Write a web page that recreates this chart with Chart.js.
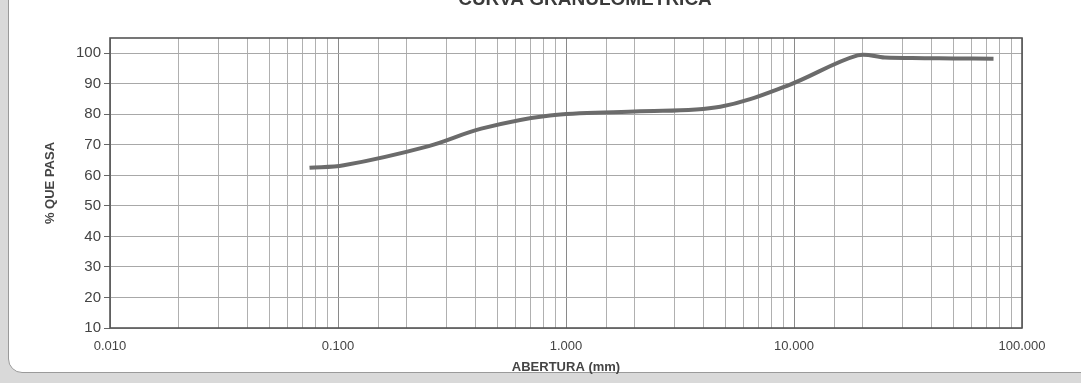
<!DOCTYPE html>
<html>
<head>
<meta charset="utf-8">
<script src="https://cdn.jsdelivr.net/npm/chart.js@4/dist/chart.umd.min.js"></script>
<style>
  html, body { margin: 0; padding: 0; }
  body { width: 1081px; height: 383px; background: #d9d9d9; position: relative; overflow: hidden; }
  #paper { position: absolute; left: 8px; top: -20px; width: 1110px; height: 391px; background: #fff;
           border: 1px solid #9a9a9a; border-radius: 14px; }
  #wrap { position: absolute; left: 0; top: 0; width: 1081px; height: 383px; }
</style>
</head>
<body>
<div id="paper"></div>
<div id="wrap"><canvas id="curva" width="1081" height="383"></canvas></div>
<script>
// Abertura de tamiz (mm) y % que pasa
const aberturas = [0.075, 0.106, 0.25, 0.425, 0.85, 2.0, 4.75, 9.5, 19.0, 25.0, 37.5, 50.0, 75.0];
const pasa = [62.5, 63.3, 69.6, 75.3, 79.6, 80.9, 82.5, 89.6, 99.3, 98.6, 98.4, 98.3, 98.2];
const yTicks = [10, 20, 30, 40, 50, 60, 70, 80, 90, 100];
const xLabels = [0.01, 0.1, 1, 10, 100];

const puntos = aberturas.map((a, i) => ({ x: a, y: pasa[i] }));

// Título parcialmente cortado arriba, como en el escaneo
const tituloPlugin = {
    id: 'titulo',
    afterDraw(chart) {
        const ctx = chart.ctx;
        ctx.save();
        ctx.font = 'bold 19px "Liberation Sans", Arial, sans-serif';
        ctx.fillStyle = '#3a3a3a';
        ctx.textAlign = 'center';
        ctx.textBaseline = 'middle';
        ctx.fillText('CURVA GRANULOMETRICA', 585, 0);
        // borde del área de trazado
        const a = chart.chartArea;
        ctx.strokeStyle = '#555';
        ctx.lineWidth = 1.6;
        ctx.strokeRect(a.left, a.top, a.right - a.left, a.bottom - a.top);
        ctx.restore();
    }
};

const ctx = document.getElementById('curva').getContext('2d');
new Chart(ctx, {
    type: 'line',
    data: {
        datasets: [{
            label: '% que pasa',
            data: puntos,
            borderColor: '#6b6b6b',
            borderWidth: 4,
            pointRadius: 0,
            tension: 0.35,
            fill: false
        }]
    },
    options: {
        responsive: false,
        animation: false,
        layout: { padding: { left: 43, right: 59, top: 38, bottom: 0 } },
        plugins: {
            legend: { display: false },
            tooltip: { enabled: false }
        },
        scales: {
            x: {
                type: 'logarithmic',
                min: 0.01,
                max: 100,
                afterFit: s => { s.height = 55; },
                grid: {
                    color: c => {
                        const v = c.tick ? c.tick.value : 0;
                        const lg = Math.log10(v);
                        return Math.abs(lg - Math.round(lg)) < 1e-6 ? '#8a8a8a' : '#b0b0b0';
                    },
                    lineWidth: 1,
                    drawTicks: false
                },
                border: { display: false },
                ticks: {
                    autoSkip: false,
                    maxRotation: 0,
                    padding: 11,
                    color: '#444',
                    font: { family: '"Liberation Sans", Arial, sans-serif', size: 13 },
                    callback: v => xLabels.some(l => Math.abs(l - v) < 1e-9) ? v.toFixed(3) : ''
                },
                title: {
                    display: true,
                    text: 'ABERTURA (mm)',
                    color: '#444',
                    font: { family: '"Liberation Sans", Arial, sans-serif', size: 13, weight: 'bold' },
                    padding: { top: 0, bottom: 8 }
                }
            },
            y: {
                min: 10,
                max: 105,
                afterFit: s => { s.width = 67; },
                afterBuildTicks: s => { s.ticks = yTicks.map(v => ({ value: v })); },
                grid: {
                    color: '#a8a8a8',
                    lineWidth: 1,
                    tickLength: 6,
                    tickColor: '#666'
                },
                border: { display: false },
                ticks: {
                    padding: 3,
                    color: '#444',
                    font: { family: '"Liberation Sans", Arial, sans-serif', size: 15 }
                },
                title: {
                    display: true,
                    text: '% QUE PASA',
                    color: '#444',
                    font: { family: '"Liberation Sans", Arial, sans-serif', size: 13, weight: 'bold' },
                    padding: { top: 0, bottom: 4 }
                }
            }
        }
    },
    plugins: [tituloPlugin]
});
</script>
</body>
</html>
